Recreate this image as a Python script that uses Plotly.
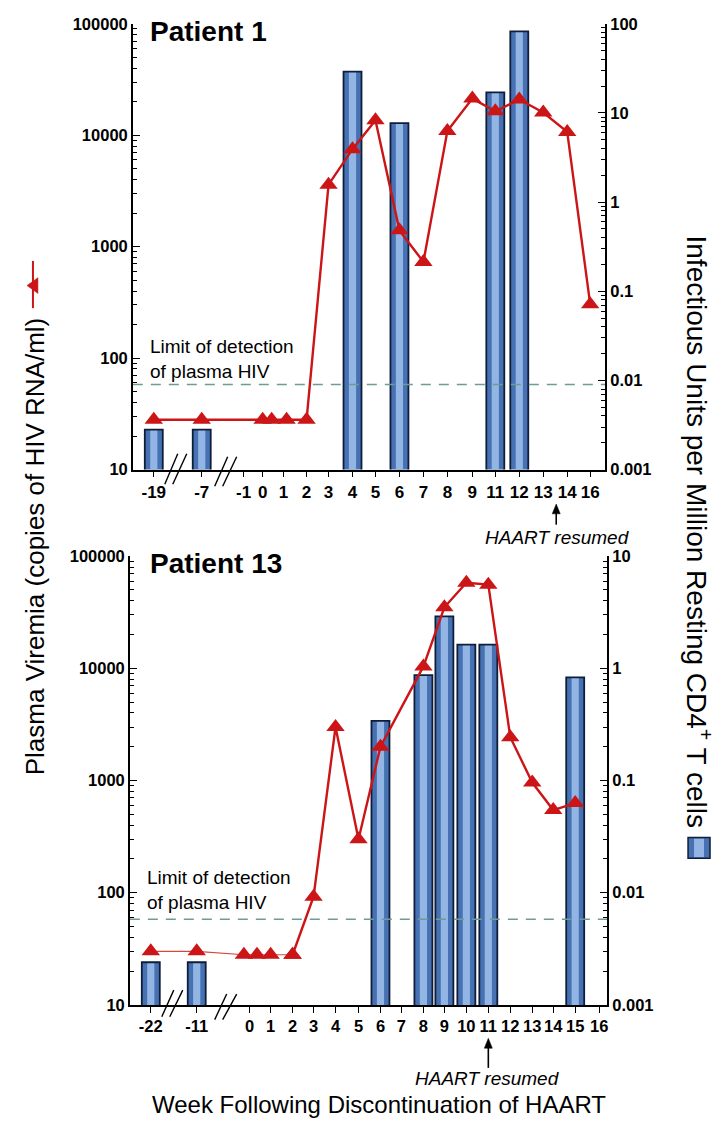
import numpy as np
import plotly.graph_objects as go

W, H = 721, 1131

# ---------------- data ----------------
# Patient 1
p1_tick_weeks = [-19, -7, -1, 0, 1, 2, 3, 4, 5, 6, 7, 8, 9, 11, 12, 13, 14, 16]
p1_rna_weeks = [-19, -7, 0, 0.43, 1.13, 2, 3, 4, 5, 6, 7, 8, 9, 11, 12, 13, 14, 16]
p1_rna = [28, 28, 28, 28, 28, 28, 3600, 7500, 13600, 1400, 730, 10900, 21300,
          16400, 20900, 16000, 10700, 305]
p1_iu_weeks = [-19, -7, 4, 6, 11, 12]
p1_iu = [0.0028, 0.0028, 29, 7.7, 17, 82]

# Patient 13
p13_tick_weeks = [-22, -11, 0, 1, 2, 3, 4, 5, 6, 7, 8, 9, 10, 11, 12, 13, 14, 15, 16]
p13_rna_weeks = [-22, -11, -1.2, 0.35, 1, 2, 3, 4, 5, 6, 8, 9, 10, 11, 12, 13, 14, 15]
p13_rna = [30, 30, 28, 28, 28, 28, 92, 3000, 300, 2000, 10400, 35000, 58000,
           55700, 2430, 960, 545, 630]
p13_iu_weeks = [-22, -11, 6, 8, 9, 10, 11, 15]
p13_iu = [0.0024, 0.0024, 0.34, 0.87, 2.9, 1.63, 1.63, 0.83]

limit_detection = 58
rna_ticks = [10, 100, 1000, 10000, 100000]
rna_labels = ["10", "100", "1000", "10000", "100000"]
p1_iu_ticks = [0.001, 0.01, 0.1, 1, 10, 100]
p1_iu_labels = ["0.001", "0.01", "0.1", "1", "10", "100"]
p13_iu_ticks = [0.001, 0.01, 0.1, 1, 10]
p13_iu_labels = ["0.001", "0.01", "0.1", "1", "10"]

# ---------------- layout helpers ----------------
p1_tick_pos = [154, 202, 244, 263, 284, 307, 329, 353, 376, 400, 424, 448, 473,
               496, 520, 544, 568, 591]
p13_tick_pos = [151, 197, 250, 271, 293, 314, 336, 359, 381, 402, 424, 445, 467,
                489, 511, 533, 554, 576, 600]


def X(px):
    return px / W


def Y(py):
    return 1 - py / H


def pos(weeks, tick_weeks, tick_pos):
    return list(np.interp(weeks, tick_weeks, tick_pos))


FONT = "Liberation Sans, Arial, sans-serif"
RED = "#cc1517"
BAR_FILL = "#4672b4"
BAR_HI = "#93b5e4"
BAR_EDGE = "#0f1d38"
MSIZE = 16


def minor_vals(lo_exp, hi_exp):
    v = []
    for e in range(lo_exp, hi_exp):
        for m in range(2, 10):
            v.append(m * 10 ** e)
    return v


fig = go.Figure()


def add_panel(xa, ya_iu, ya_rna, bar_w, bar_x, bar_y, line_x, line_y, thin_upto):
    fig.add_trace(go.Bar(x=bar_x, y=bar_y, width=bar_w, xaxis=xa, yaxis=ya_iu,
                         marker=dict(color=BAR_FILL, line=dict(width=0)),
                         hoverinfo="skip"))
    fig.add_trace(go.Bar(x=bar_x, y=bar_y, width=bar_w * 0.4, xaxis=xa, yaxis=ya_iu,
                         marker=dict(color=BAR_HI, line=dict(width=0)),
                         hoverinfo="skip"))
    fig.add_trace(go.Bar(x=bar_x, y=bar_y, width=bar_w, xaxis=xa, yaxis=ya_iu,
                         marker=dict(color="rgba(0,0,0,0)",
                                     line=dict(width=1.8, color=BAR_EDGE)),
                         hoverinfo="skip"))
    mk = dict(symbol="triangle-up", size=MSIZE, color=RED)
    if thin_upto is not None:
        k = thin_upto
        fig.add_trace(go.Scatter(x=line_x[:k + 1], y=line_y[:k + 1], xaxis=xa,
                                 yaxis=ya_rna, mode="lines+markers",
                                 line=dict(color="#d9443f", width=1.2), marker=mk))
        fig.add_trace(go.Scatter(x=line_x[k:], y=line_y[k:], xaxis=xa, yaxis=ya_rna,
                                 mode="lines+markers",
                                 line=dict(color=RED, width=2.4), marker=mk))
    else:
        fig.add_trace(go.Scatter(x=line_x, y=line_y, xaxis=xa, yaxis=ya_rna,
                                 mode="lines+markers",
                                 line=dict(color=RED, width=2.4), marker=mk))


add_panel("x", "y", "y2", 18,
          pos(p1_iu_weeks, p1_tick_weeks, p1_tick_pos), p1_iu,
          pos(p1_rna_weeks, p1_tick_weeks, p1_tick_pos), p1_rna, None)
add_panel("x2", "y3", "y4", 18,
          pos(p13_iu_weeks, p13_tick_weeks, p13_tick_pos), p13_iu,
          pos(p13_rna_weeks, p13_tick_weeks, p13_tick_pos), p13_rna, 5)

ytickfont = dict(family=FONT, size=16.5, color="black", weight="bold")


def xaxis_cfg(x0, x1, y_anchor, tickpos, tickweeks, size):
    return dict(domain=[X(x0), X(x1)], range=[x0, x1], anchor=y_anchor,
                tickmode="array", tickvals=tickpos,
                ticktext=[str(w) for w in tickweeks], tickangle=0,
                ticks="outside", ticklen=6, tickwidth=1.3, tickcolor="black",
                showline=True, linecolor="black", linewidth=1.5,
                showgrid=False, zeroline=False,
                tickfont=dict(family=FONT, size=size, color="black", weight="bold"),
                fixedrange=True)


def yaxis_cfg(top, bottom, anchor, lo, hi, ticks, labels, side, overlaying=None):
    d = dict(domain=[Y(bottom), Y(top)], type="log", range=[lo, hi], anchor=anchor,
             side=side, tickmode="array", tickvals=ticks, ticktext=labels,
             ticks="inside", ticklen=7, tickwidth=1.3, tickcolor="black",
             minor=dict(tickmode="array", tickvals=minor_vals(lo, hi),
                        ticks="inside", ticklen=4, tickwidth=1, tickcolor="black",
                        showgrid=False),
             showline=True, linecolor="black", linewidth=1.5,
             showgrid=False, zeroline=False, tickfont=ytickfont, fixedrange=True)
    if overlaying:
        d["overlaying"] = overlaying
    return d


fig.update_layout(
    width=W, height=H,
    margin=dict(l=0, r=0, t=0, b=0),
    paper_bgcolor="white", plot_bgcolor="white",
    showlegend=False, barmode="overlay",
    font=dict(family=FONT, color="black"),
    xaxis=xaxis_cfg(133, 606, "y", p1_tick_pos, p1_tick_weeks, 17),
    xaxis2=xaxis_cfg(130, 608, "y3", p13_tick_pos, p13_tick_weeks, 16.5),
    yaxis=yaxis_cfg(15, 468, "x", -3, 2, p1_iu_ticks, p1_iu_labels, "right"),
    yaxis2=yaxis_cfg(15, 468, "x", 1, 5, rna_ticks, rna_labels, "left", overlaying="y"),
    yaxis3=yaxis_cfg(556, 1012, "x2", -3, 1, p13_iu_ticks, p13_iu_labels, "right"),
    yaxis4=yaxis_cfg(556, 1012, "x2", 1, 5, rna_ticks, rna_labels, "left",
                     overlaying="y3"),
)

shapes = []
# limit of detection dashed lines
for xa, ya, x0, x1 in [("x", "y2", 133, 606), ("x2", "y4", 130, 608)]:
    shapes.append(dict(type="line", xref=xa, yref=ya, x0=x0, x1=x1,
                       y0=limit_detection, y1=limit_detection,
                       line=dict(color="#6e9c92", width=1.6, dash="10px,8px")))

# axis break marks
breaks = [
    [(165, 483, 178, 452), (173, 483, 187, 452), (215, 485, 228, 455), (223, 485, 237, 455)],
    [(162, 1024, 174, 997), (170, 1024, 183, 997), (215, 1027, 227, 1001), (223, 1027, 237, 1001)],
]
for group in breaks:
    for (a, b, c, d) in group:
        shapes.append(dict(type="line", xref="paper", yref="paper",
                           x0=X(a), y0=Y(b), x1=X(c), y1=Y(d),
                           line=dict(color="black", width=1.4)))

# "HAART resumed" arrows (shaft + head)
for (xh, yh, yt) in [(557, 503, 524), (489, 1046, 1076)]:
    shapes.append(dict(type="line", xref="paper", yref="paper", x0=X(xh), x1=X(xh),
                       y0=Y(yh + 6), y1=Y(yt), line=dict(color="black", width=1.6)))
    shapes.append(dict(type="path", xref="paper", yref="paper",
                       path="M %f,%f L %f,%f L %f,%f Z" % (X(xh), Y(yh), X(xh - 4),
                                                           Y(yh + 10), X(xh + 4),
                                                           Y(yh + 10)),
                       fillcolor="black", line=dict(color="black", width=0.5)))

# left legend icon (rotated line with triangle)
shapes.append(dict(type="line", xref="paper", yref="paper", x0=X(33), x1=X(33),
                   y0=Y(256), y1=Y(304), line=dict(color=RED, width=2)))
shapes.append(dict(type="path", xref="paper", yref="paper",
                   path="M %f,%f L %f,%f L %f,%f Z" % (X(27), Y(281), X(38), Y(273),
                                                       X(38), Y(289)),
                   fillcolor=RED, line=dict(color=RED, width=0.5)))
# right legend icon (bar)
shapes.append(dict(type="rect", xref="paper", yref="paper", x0=X(689), x1=X(711),
                   y0=Y(863), y1=Y(842), fillcolor=BAR_FILL, line=dict(width=0)))
shapes.append(dict(type="rect", xref="paper", yref="paper", x0=X(695), x1=X(705),
                   y0=Y(862), y1=Y(843), fillcolor=BAR_HI, line=dict(width=0)))
shapes.append(dict(type="rect", xref="paper", yref="paper", x0=X(689), x1=X(711),
                   y0=Y(863), y1=Y(842), fillcolor="rgba(0,0,0,0)",
                   line=dict(color=BAR_EDGE, width=1.5)))
fig.update_layout(shapes=shapes)

ann = []


def text(x, y, s, size, xanchor="center", yanchor="middle", angle=0, weight="normal",
         style="normal", align="left"):
    ann.append(dict(x=X(x), y=Y(y), xref="paper", yref="paper", text=s,
                    showarrow=False, xanchor=xanchor, yanchor=yanchor,
                    textangle=angle, align=align,
                    font=dict(family=FONT, size=size, color="black",
                              weight=weight, style=style)))


text(148, 23, "Patient 1", 28, xanchor="left", weight="bold")
text(148, 563, "Patient 13", 28, xanchor="left", weight="bold")
text(148, 356, "Limit of detection<br>of plasma HIV", 19, xanchor="left")
text(145, 895, "Limit of detection<br>of plasma HIV", 19, xanchor="left")
text(558, 537, "HAART resumed", 19, style="italic")
text(488, 1087, "HAART resumed", 19, style="italic")
text(380, 1113, "Week Following Discontinuation of HAART", 24)
text(35, 546, "Plasma Viremia (copies of HIV RNA/ml)", 26, angle=-90)
text(700, 531, "Infectious Units per Million Resting CD4<sup>+</sup> T cells", 28,
     angle=90)

fig.update_layout(annotations=ann)

fig.write_html("out.html")
